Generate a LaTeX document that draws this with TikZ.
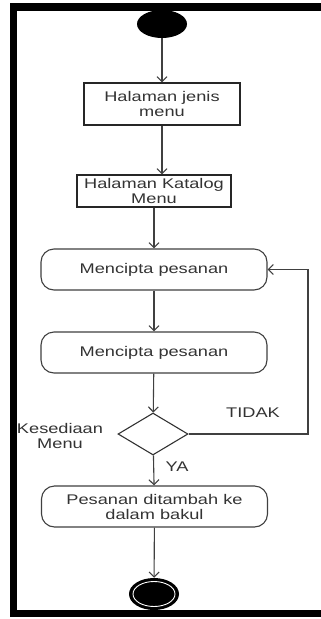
\documentclass[tikz,border=0pt]{standalone}
\usepackage{fontspec}
\setmainfont{Liberation Sans}[FakeStretch=1.3]
\usetikzlibrary{arrows.meta,shapes.geometric}

\begin{document}
\begin{tikzpicture}[x=1pt,y=-1pt,
  every node/.style={font=\fontsize{14}{15}\selectfont, inner sep=0pt, align=center, text=black!80},
  box/.style={draw=black!85, line width=1.1pt},
  act/.style={draw=black!75, line width=1.1pt, rounded corners=13pt,
              minimum width=226pt, minimum height=41pt},
  decision/.style={diamond, draw=black!80, line width=1.1pt,
              minimum width=70pt, minimum height=42pt},
  flow/.style={draw=black!75, line width=1.1pt,
               -{Straight Barb[length=5pt,width=10pt,line width=1.1pt]}},
  frame/.style={fill=black}
]
\useasboundingbox (0,0) rectangle (321,619);
\fill[white] (0,0) rectangle (321,619);

% initial state
\node[ellipse, fill=black, minimum width=50pt, minimum height=28pt] (start) at (162,24) {};

% actions
\node[box, minimum width=156pt, minimum height=42pt] (b1) at (162,104) {Halaman jenis\\menu};
\node[box, minimum width=154pt, minimum height=32pt] (b2) at (154,191) {Halaman Katalog\\Menu};
\node[act] (r1) at (154,269.5) {Mencipta pesanan};
\node[act] (r2) at (154,352.5) {Mencipta pesanan};
\node[decision] (d) at (153,434) {};
\node[act] (r3) at (154.5,506.5) {Pesanan ditambah ke\\dalam bakul};

% final state
\node[ellipse, fill=black, minimum width=50pt, minimum height=32pt] (end) at (154,594) {};
\draw[white, line width=0.9pt] (end.center) ellipse [x radius=21pt, y radius=12.5pt];

% labels
\node (kes) at (60,436) {Kesediaan\\Menu};
\node (tidak) at (253,413) {TIDAK};
\node (ya) at (177,467) {YA};

% connectors
\draw[flow] (start) -- (b1);
\draw[flow] (b1.south) -- (b1.south |- b2.north);
\draw[flow] (b2) -- (r1);
\draw[flow] (r1) -- (r2);
\draw[flow] (r2) -- (d);
\draw[flow] (d) -- (r3);
\draw[flow] (r3) -- (end);
\coordinate (loop) at (308,434);
\draw[flow] (d.east) -- (loop) |- (r1.east);

% page frame
\fill[frame] (10,3) rectangle (321,11);
\fill[frame] (10,3) rectangle (17,617);
\fill[frame] (10,610) rectangle (321,617);
\end{tikzpicture}
\end{document}
